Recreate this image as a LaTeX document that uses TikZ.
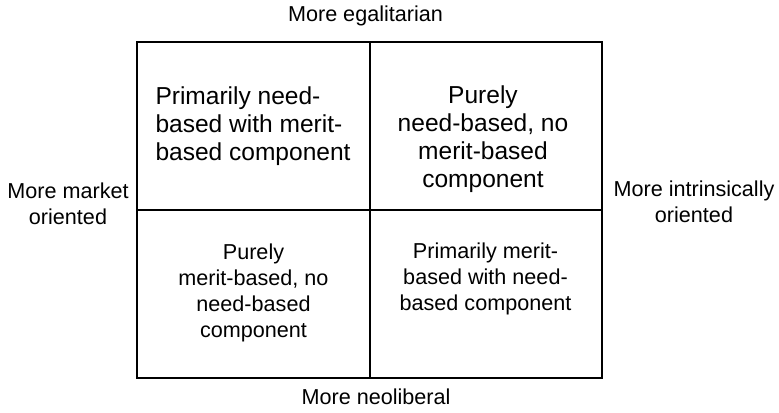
\documentclass[tikz,border=0pt]{standalone}
\usepackage{fontspec}
\setmainfont{Liberation Sans}
\tikzset{every picture/.style={line width=0.75pt}}
\tikzset{
  axislabel/.style={inner sep=0pt, align=center, font={\fontsize{16.2}{19.5}\selectfont}},
  smallcell/.style={inner sep=0pt, align=center, font={\fontsize{16.2}{19.5}\selectfont}},
  bigcell/.style={inner sep=0pt, font={\fontsize{18.4}{21}\selectfont}},
}
\begin{document}
\begin{tikzpicture}[x=0.75pt,y=0.75pt,yscale=-1,xscale=1]
		\useasboundingbox (0,0) rectangle (779,413);

		%Shape: Rectangle
		\draw [line width=1.1] (137,42) rectangle (602,378) ;
		%Straight Lines
		\draw [line width=1.1] (370,42) -- (370,378) ;
		%Straight Lines
		\draw [line width=1.1] (137,210) -- (602,210) ;

		% Text Node
		\draw (365.5,22) node (egal) [anchor=base][axislabel] {More egalitarian};
		% Text Node
		\draw (376,405) node (neolib) [anchor=base][axislabel] {More neoliberal};
		% Text Node
		\draw (68,225) node (market) [anchor=base][axislabel] {More market\\oriented};
		% Text Node
		\draw (694,223) node (intrinsic) [anchor=base][axislabel] {More intrinsically\\oriented};

		% Text Node
		\draw (155,160.5) node (needmerit) [anchor=base west][bigcell][align=left] {Primarily need-\\based with merit-\\based component};
		% Text Node
		\draw (483,188) node (needonly) [anchor=base][bigcell][align=center] {Purely\\need-based, no\\merit-based\\component};
		% Text Node
		\draw (253.5,338) node (meritonly) [anchor=base][smallcell] {Purely\\merit-based, no\\need-based\\component};
		% Text Node
		\draw (485.5,310.5) node (meritneed) [anchor=base][smallcell] {Primarily merit-\\based with need-\\based component};

	\end{tikzpicture}
\end{document}
